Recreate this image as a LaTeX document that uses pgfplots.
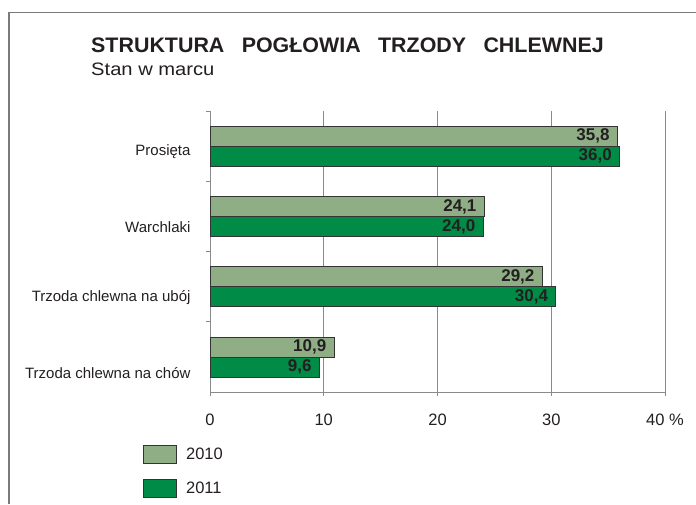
\documentclass[border=0pt]{standalone}
\usepackage{pgfplots}
\pgfplotsset{compat=1.18}
\usepackage{fontspec}
\setmainfont{Liberation Sans}
\definecolor{txt}{HTML}{231F20}
\definecolor{lightg}{HTML}{8FAE86}
\definecolor{darkg}{HTML}{008C46}
\definecolor{frame}{HTML}{7A7A7A}
\definecolor{gridc}{HTML}{8A8A8A}
\begin{document}
\begin{tikzpicture}[x=1pt,y=1pt]
\useasboundingbox (0,0) rectangle (696,504);
\draw[frame, line width=1.4pt] (9,0) -- (9,491.7) -- (696,491.7);
\node[anchor=base west, inner sep=0pt, text=txt] at (91,451.3)
  {\scalebox{1.02}[1]{\fontsize{21}{25}\selectfont\bfseries STRUKTURA\hspace{17pt}POGŁOWIA\hspace{17pt}TRZODY\hspace{17pt}CHLEWNEJ}};
\node[anchor=base west, inner sep=0pt, text=txt] at (91,428)
  {\scalebox{1.12}[1]{\fontsize{18}{22}\selectfont Stan w marcu}};
\begin{axis}[
  at={(210pt,147pt)}, anchor=origin,
  scale only axis, width=455pt, height=281pt,
  xbar, bar width=20pt,
  xmin=0, xmax=40, ymin=-0.5, ymax=3.5,
  axis x line*=bottom, axis y line*=left,
  axis line style={draw=gridc, line width=0.9pt},
  xtick={0,10,20,30,40},
  xticklabels={0,10,20,30,40 \%},
  xmajorgrids, grid style={draw=gridc, line width=0.9pt},
  tick align=outside, major tick length=4pt,
  tick style={draw=gridc, line width=0.9pt},
  xticklabel style={font=\fontsize{16.5}{19}\selectfont, text=txt, yshift=-14pt},
  ytick={0.5,1.5,2.5,3.5}, yticklabels={},
  extra y ticks={-0.23,0.84,1.85,2.93},
  extra y tick labels={Trzoda chlewna na chów, Trzoda chlewna na ubój, Warchlaki, Prosięta},
  extra y tick style={major tick length=0pt, yticklabel style={font=\fontsize{15}{18}\selectfont, text=txt, xshift=-16pt}},
  /pgf/number format/assume math mode=true,
  point meta=x,
  nodes near coords={\pgfmathprintnumber[fixed,fixed zerofill,precision=1,use comma]{\pgfplotspointmeta}},
  nodes near coords style={anchor=east, xshift=-4pt, font=\fontsize{17}{20}\selectfont\bfseries, text=txt, /pgf/number format/assume math mode=true},
  legend style={at={(axis description cs:-0.147,-0.187)}, anchor=north west, draw=none, fill=none, inner sep=0pt,
    row sep=15pt, font=\fontsize{16.5}{19}\selectfont, text=txt},
  legend cell align=left,
  legend image code/.code={\draw[#1] (0pt,-9pt) rectangle (33pt,9pt); \path (40pt,0pt);},
  clip=false,
]
\addplot[fill=lightg, draw=black!80, line width=0.8pt, bar shift=10pt]
  coordinates {(35.8,3) (24.1,2) (29.2,1) (10.9,0)};
\addplot[fill=darkg, draw=black!80, line width=0.8pt, bar shift=-10pt]
  coordinates {(36.0,3) (24.0,2) (30.4,1) (9.6,0)};
\legend{2010,2011}
\end{axis}
\end{tikzpicture}
\end{document}
